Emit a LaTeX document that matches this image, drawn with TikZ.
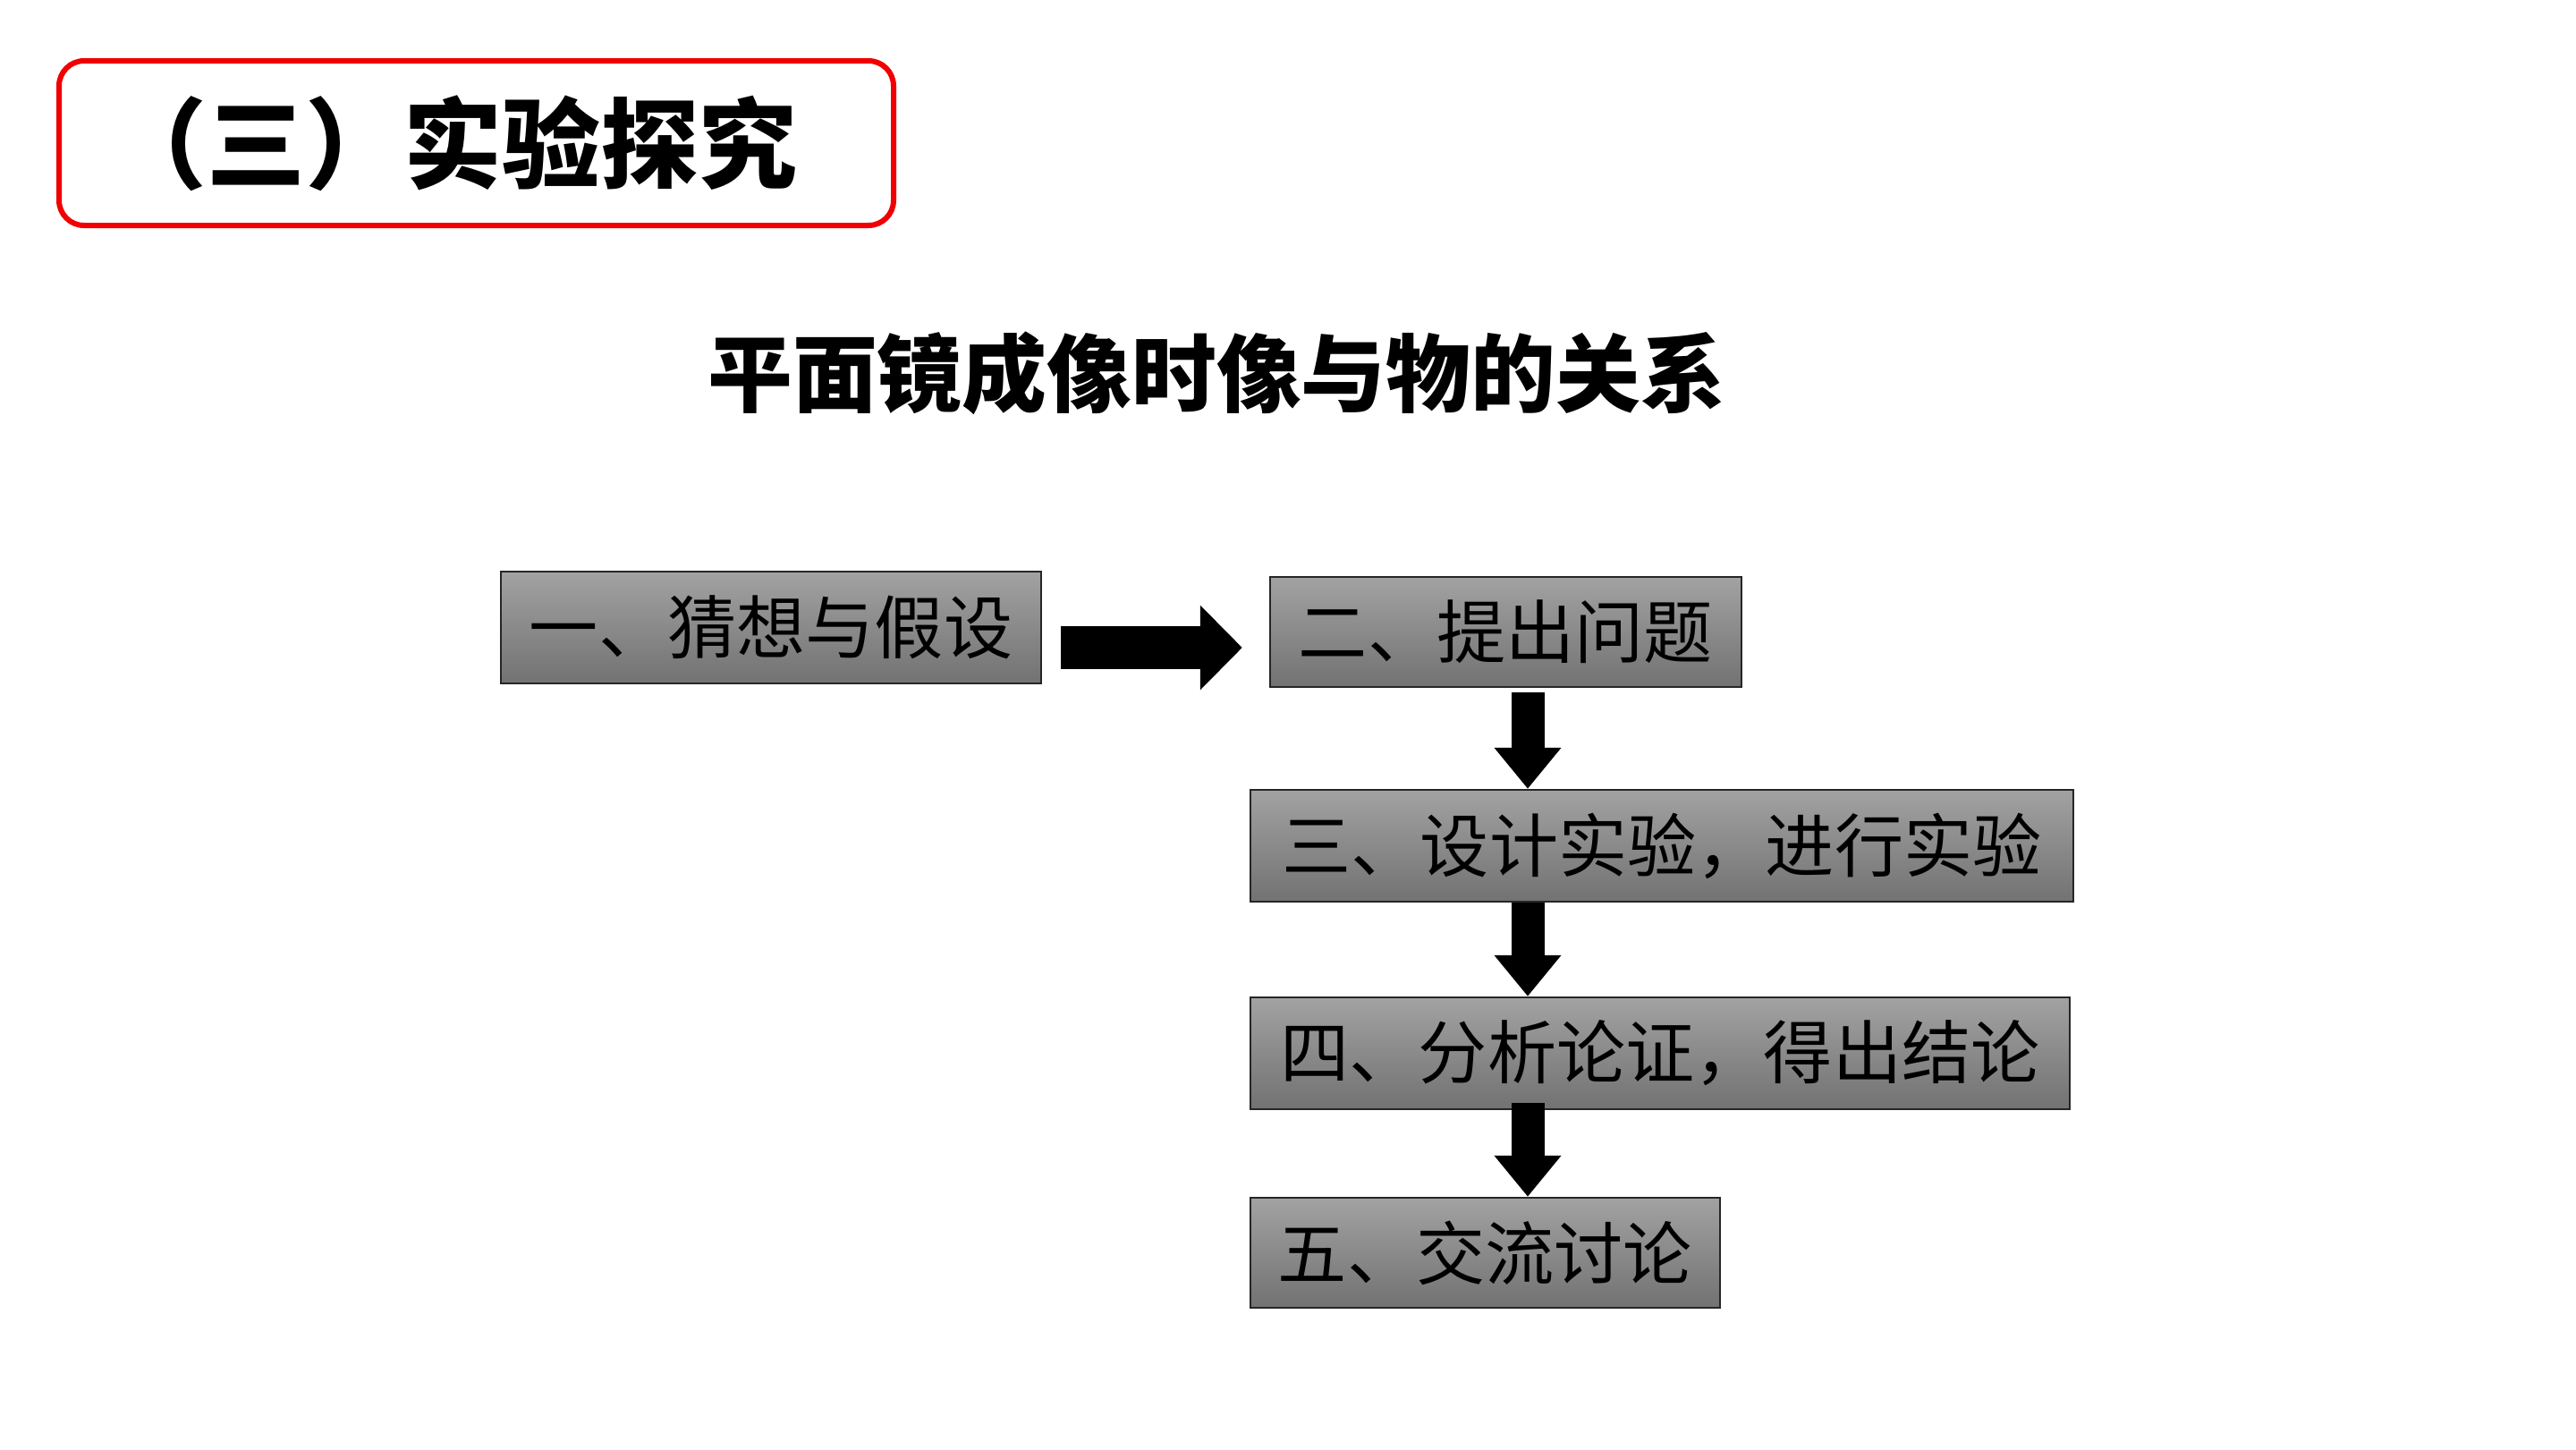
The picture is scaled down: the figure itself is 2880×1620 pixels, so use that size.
\documentclass[tikz,border=0pt]{standalone}
\usepackage{fontspec}
\newfontfamily\cjk{Noto Sans CJK SC}
\usetikzlibrary{arrows.meta,calc}
\definecolor{boxtop}{HTML}{A2A2A2}
\definecolor{boxbot}{HTML}{727272}
\definecolor{titlered}{HTML}{F00000}
\begin{document}
\begin{tikzpicture}[x=0.25pt,y=-0.25pt,
  stepbox/.style={draw=black!85, line width=0.6pt, top color=boxtop, bottom color=boxbot,
    inner sep=0pt, anchor=center, font=\cjk\fontsize{19.3pt}{22pt}\selectfont},
  varrow/.style={draw=black, line width=9.25pt, -{Triangle[length=11.5pt,width=18pt]}},
  harrow/.style={draw=black, line width=12pt, -{Triangle[length=11.75pt,width=23pt]}}]
\fill[white] (0,0) rectangle (2880,1620);
\useasboundingbox (0,0) rectangle (2880,1620);
% title
\node[draw=titlered, line width=1.5pt, rounded corners=7pt, minimum width=233.25pt, minimum height=46pt, inner sep=0pt] (titlebox) at (532.5,160) {};
\node[font=\cjk\bfseries\fontsize{27.5pt}{30pt}\selectfont, inner sep=0pt] (titletext) at (506,160) {（三）实验探究};
\node[font=\cjk\bfseries\fontsize{23.7pt}{28pt}\selectfont, inner sep=0pt] (subtitle) at (1360,417) {平面镜成像时像与物的关系};
% boxes
\node[stepbox, minimum width=151pt, minimum height=31.25pt] (b1) at (862,701.5) {一、猜想与假设};
\node[stepbox, minimum width=131.75pt, minimum height=30.75pt] (b2) at (1683.5,706.5) {二、提出问题};
\node[stepbox, minimum width=230pt, minimum height=31.25pt] (b3) at (1858,945.5) {三、设计实验，进行实验};
\node[stepbox, minimum width=229pt, minimum height=31.25pt] (b4) at (1856,1177.5) {四、分析论证，得出结论};
\node[stepbox, minimum width=131.25pt, minimum height=30.75pt] (b5) at (1660.5,1400.5) {五、交流讨论};
% arrows
\coordinate (ax) at (1708,0);
\coordinate (ay) at (0,724);
\draw[harrow] ($(b1.east |- ay)+(21,0)$) -- ($(b2.west |- ay)+(-30,0)$);
\draw[varrow] ($(b2.south -| ax)+(0,5)$) -- (b3.north -| ax);
\draw[varrow] (b3.south -| ax) -- (b4.north -| ax);
\draw[varrow] ($(b4.south -| ax)+(0,-8)$) -- (b5.north -| ax);
\end{tikzpicture}
\end{document}
